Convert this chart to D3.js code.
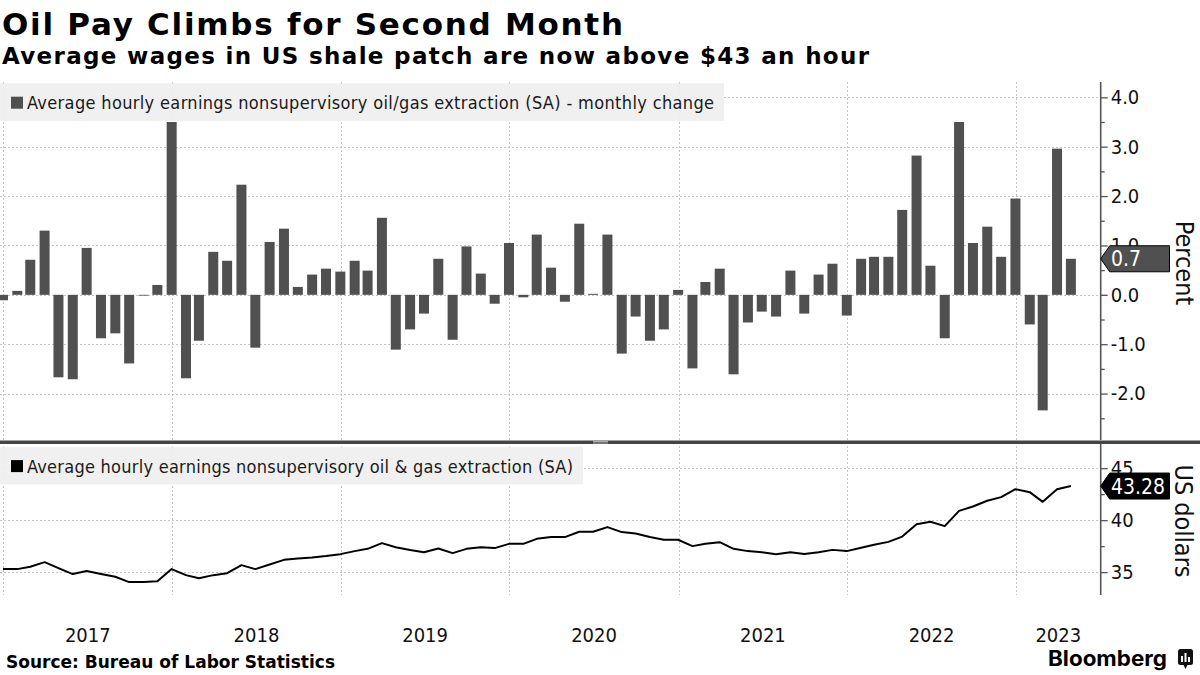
<!DOCTYPE html>
<html><head><meta charset="utf-8">
<script src="https://cdn.jsdelivr.net/npm/d3@7"></script>
<style>
body{margin:0;background:#fff}
svg{display:block}
.cond{font-family:"DejaVu Sans Condensed","DejaVu Sans",sans-serif;font-stretch:condensed}
.bold{font-family:"DejaVu Sans",sans-serif;font-weight:bold}
</style>
</head><body>
<svg id="chart" width="1200" height="675"></svg>
<script>
// ---------------- DATA ----------------
const firstMonth = new Date(2016, 11, 1);   // Dec 2016
const lastMonth  = new Date(2023, 3, 1);    // Apr 2023
const monthlyChangePct = [
  -0.11, 0.08, 0.71, 1.30, -1.67, -1.71, 0.95, -0.88, -0.78, -1.39,
  -0.01, 0.20, 3.50, -1.69, -0.93, 0.87, 0.69, 2.23, -1.07, 1.07,
  1.34, 0.16, 0.41, 0.53, 0.47, 0.69, 0.49, 1.56, -1.11, -0.70,
  -0.38, 0.73, -0.91, 0.98, 0.43, -0.18, 1.05, -0.05, 1.22, 0.55,
  -0.14, 1.44, 0.02, 1.22, -1.19, -0.44, -0.93, -0.70, 0.10, -1.49,
  0.26, 0.53, -1.61, -0.56, -0.34, -0.44, 0.49, -0.38, 0.41, 0.63,
  -0.42, 0.73, 0.77, 0.77, 1.72, 2.82, 0.59, -0.88, 3.50, 1.05,
  1.38, 0.77, 1.95, -0.60, -2.34, 2.96, 0.73
];
const hourlyEarningsUSD = [
  35.29, 35.29, 35.51, 35.96, 35.38, 34.81, 35.10, 34.81, 34.55, 34.04,
  34.04, 34.13, 35.29, 34.71, 34.42, 34.71, 34.90, 35.67, 35.29, 35.73,
  36.18, 36.31, 36.40, 36.54, 36.73, 37.02, 37.24, 37.79, 37.40, 37.12,
  36.92, 37.27, 36.83, 37.24, 37.40, 37.31, 37.72, 37.72, 38.20, 38.37,
  38.37, 38.88, 38.88, 39.33, 38.85, 38.71, 38.37, 38.11, 38.11, 37.50,
  37.72, 37.88, 37.24, 37.02, 36.92, 36.73, 36.92, 36.75, 36.92, 37.14,
  37.02, 37.34, 37.63, 37.91, 38.42, 39.61, 39.84, 39.42, 40.89, 41.31,
  41.86, 42.21, 42.98, 42.69, 41.76, 42.98, 43.28
];
const yearLabels = ["2017","2018","2019","2020","2021","2022","2023"];
const pctTicks = [-2, -1, 0, 1, 2, 3, 4];
const pctMinorTicks = [-2.5, -1.5, -0.5, 0.5, 1.5, 2.5, 3.5];
const usdTicks = [35, 40, 45];
const usdMinorTicks = [37.5, 42.5];
const lastPctLabel = "0.7";
const lastUsdLabel = "43.28";
const titleText = "Oil Pay Climbs for Second Month";
const subtitleText = "Average wages in US shale patch are now above $43 an hour";
const legendTop = "Average hourly earnings nonsupervisory oil/gas extraction (SA) - monthly change";
const legendBottom = "Average hourly earnings nonsupervisory oil & gas extraction (SA)";
const sourceText = "Source: Bureau of Labor Statistics";
const pctAxisTitle = "Percent";
const usdAxisTitle = "US dollars";

// ---------------- LAYOUT ----------------
const svg = d3.select("#chart");
const plotRight = 1100.7;
const months = d3.timeMonths(firstMonth, d3.timeMonth.offset(lastMonth, 1));
const monthEnd = m => d3.timeDay.offset(d3.timeMonth.offset(m, 1), -1);
const barData = months.map((m, i) => ({date: monthEnd(m), v: monthlyChangePct[i]}));
const lineData = months.map((m, i) => ({date: monthEnd(m), v: hourlyEarningsUSD[i]}));

const x = d3.scaleTime()
  .domain([new Date(2016, 11, 24, 12), new Date(2023, 6, 3, 12)])
  .range([0, plotRight]);
const yTop = d3.scaleLinear().domain([-2.94, 4.31]).range([440, 82]);
const yBot = d3.scaleLinear().domain([32.8, 47.13]).range([595, 446]);

const gridColor = "#c4c4c4";
const axisColor = "#555";

svg.append("defs").append("clipPath").attr("id", "clip")
  .append("rect").attr("x", 0).attr("y", 0).attr("width", plotRight).attr("height", 675);

// ---------- title ----------
function fitText(sel, w) {
  sel.attr("textLength", w).attr("lengthAdjust", "spacing");
}
svg.append("text").attr("class", "bold").attr("x", 2).attr("y", 35)
  .attr("font-size", 31).attr("fill", "#000").text(titleText).call(fitText, 621);
svg.append("text").attr("class", "bold").attr("x", 2).attr("y", 63.5)
  .attr("font-size", 23).attr("fill", "#000").text(subtitleText).call(fitText, 867);

// ---------- grids ----------
const years = d3.timeYears(new Date(2017, 0, 1), new Date(2024, 0, 1));
const grid = svg.append("g").attr("stroke", gridColor).attr("stroke-width", 1).attr("stroke-dasharray", "2,2");
grid.selectAll(".vt").data(years).join("line")
  .attr("x1", d => Math.round(x(d)) + 0.5).attr("x2", d => Math.round(x(d)) + 0.5)
  .attr("y1", 82).attr("y2", 440);
grid.selectAll(".vb").data(years).join("line")
  .attr("x1", d => Math.round(x(d)) + 0.5).attr("x2", d => Math.round(x(d)) + 0.5)
  .attr("y1", 446).attr("y2", 595);
grid.selectAll(".ht").data(pctTicks).join("line")
  .attr("x1", 0).attr("x2", plotRight)
  .attr("y1", d => Math.round(yTop(d)) + 0.5).attr("y2", d => Math.round(yTop(d)) + 0.5);
grid.selectAll(".hb").data(usdTicks).join("line")
  .attr("x1", 0).attr("x2", plotRight)
  .attr("y1", d => Math.round(yBot(d)) + 0.5).attr("y2", d => Math.round(yBot(d)) + 0.5);

// ---------- legends ----------
function legend(y0, w, color, label, textW) {
  const g = svg.append("g");
  g.append("rect").attr("x", 0).attr("y", y0).attr("width", w).attr("height", 37.7)
    .attr("fill", "#efefef").attr("fill-opacity", 0.92);
  g.append("rect").attr("x", 11).attr("y", y0 + 13.4).attr("width", 12).attr("height", 12).attr("fill", color);
  g.append("text").attr("class", "cond").attr("x", 27).attr("y", y0 + 26)
    .attr("font-size", 18).attr("fill", "#1a1a1a").text(label).call(fitText, textW);
}
legend(83.3, 724, "#505050", legendTop, 687);
legend(446.7, 583, "#000", legendBottom, 546);

// ---------- bars ----------
svg.append("g").attr("clip-path", "url(#clip)")
  .selectAll("rect").data(barData).join("rect")
  .attr("x", d => x(d.date) - 5)
  .attr("width", 10)
  .attr("y", d => yTop(Math.max(0, d.v)))
  .attr("height", d => Math.max(0.8, Math.abs(yTop(d.v) - yTop(0))))
  .attr("fill", "#505050");

// ---------- line ----------
svg.append("path").datum(lineData)
  .attr("clip-path", "url(#clip)")
  .attr("fill", "none").attr("stroke", "#000").attr("stroke-width", 2)
  .attr("stroke-linejoin", "round")
  .attr("d", d3.line().x(d => x(d.date)).y(d => yBot(d.v)));

// ---------- separator ----------
svg.append("rect").attr("x", 0).attr("y", 440.5).attr("width", 1200).attr("height", 3.5).attr("fill", "#444");
svg.append("line").attr("x1", 593).attr("x2", 608).attr("y1", 441.5).attr("y2", 441.5).attr("stroke", "#aaa");
svg.append("line").attr("x1", 593).attr("x2", 608).attr("y1", 443).attr("y2", 443).attr("stroke", "#aaa");

// ---------- axes ----------
const fmtPct = d => (d < 0 ? "-" : "") + Math.abs(d).toFixed(1);
function rightAxis(scale, ticks, minor, fmt, y1, y2) {
  const g = svg.append("g").attr("transform", `translate(${plotRight},0)`);
  g.append("g").call(d3.axisRight(scale).tickValues(minor).tickSize(4).tickFormat(""))
    .call(a => a.select(".domain").remove());
  const ax = g.append("g").call(d3.axisRight(scale).tickValues(ticks).tickSize(7).tickPadding(3).tickFormat(fmt));
  ax.select(".domain").remove();
  g.selectAll("line").attr("stroke", axisColor).attr("stroke-width", 1.3);
  ax.selectAll("text").attr("class", "cond").attr("font-size", 20).attr("fill", "#111");
  g.append("line").attr("x1", 0).attr("x2", 0).attr("y1", y1).attr("y2", y2)
    .attr("stroke", axisColor).attr("stroke-width", 1.6);
}
rightAxis(yTop, pctTicks, pctMinorTicks, fmtPct, 82, 440);
rightAxis(yBot, usdTicks, usdMinorTicks, d => d, 444, 595);

svg.append("text").attr("class", "cond").attr("font-size", 25).attr("fill", "#111")
  .attr("text-anchor", "middle")
  .attr("transform", `translate(1176,263) rotate(90)`).text(pctAxisTitle);
svg.append("text").attr("class", "cond").attr("font-size", 25).attr("fill", "#111")
  .attr("text-anchor", "middle")
  .attr("transform", `translate(1175,521) rotate(90)`).text(usdAxisTitle);

// ---------- value tags ----------
function tag(yv, fill, label) {
  const h = 26, tip = plotRight;
  const path = d3.path();
  path.moveTo(tip, yv);
  path.lineTo(tip + 9, yv - h / 2);
  path.lineTo(1169.5, yv - h / 2);
  path.lineTo(1169.5, yv + h / 2);
  path.lineTo(tip + 9, yv + h / 2);
  path.closePath();
  svg.append("path").attr("d", path.toString()).attr("fill", fill).attr("stroke", "#000").attr("stroke-width", 1);
  svg.append("text").attr("class", "cond").attr("x", 1111).attr("y", yv + 7.5)
    .attr("font-size", 21).attr("fill", "#fff").text(label);
}
tag(yTop(monthlyChangePct[monthlyChangePct.length - 1]), "#505050", lastPctLabel);
tag(yBot(hourlyEarningsUSD[hourlyEarningsUSD.length - 1]), "#000", lastUsdLabel);

// ---------- year labels ----------
svg.append("g").selectAll("text").data(yearLabels).join("text")
  .attr("class", "cond").attr("font-size", 20).attr("fill", "#111").attr("text-anchor", "middle")
  .attr("x", d => {
    const a = Math.max(0, x(new Date(+d, 0, 1)));
    const b = Math.min(plotRight, x(new Date(+d + 1, 0, 1)));
    return (a + b) / 2;
  })
  .attr("y", 642).text(d => d);

// ---------- footer ----------
svg.append("text").attr("class", "bold").attr("x", 6).attr("y", 667.5)
  .attr("font-size", 17).attr("fill", "#000").text(sourceText).call(fitText, 329);
svg.append("text").attr("x", 1048).attr("y", 666).attr("font-family", "Inter, 'DejaVu Sans', sans-serif")
  .attr("font-weight", 700).attr("font-size", 21).attr("fill", "#000")
  .attr("textLength", 119).attr("lengthAdjust", "spacingAndGlyphs").text("Bloomberg");
const icon = svg.append("g");
icon.append("rect").attr("x", 1178).attr("y", 649).attr("width", 15).attr("height", 16).attr("rx", 2.5).attr("fill", "#111");
icon.append("path").attr("d", "M1183,664 L1185.5,669 L1188,664 Z").attr("fill", "#111");
[[1181, 656, 6], [1184.5, 653, 9], [1188, 657, 5]].forEach(([bx, by, bh]) =>
  icon.append("rect").attr("x", bx).attr("y", by).attr("width", 2).attr("height", bh).attr("fill", "#fff"));
</script>
</body></html>
